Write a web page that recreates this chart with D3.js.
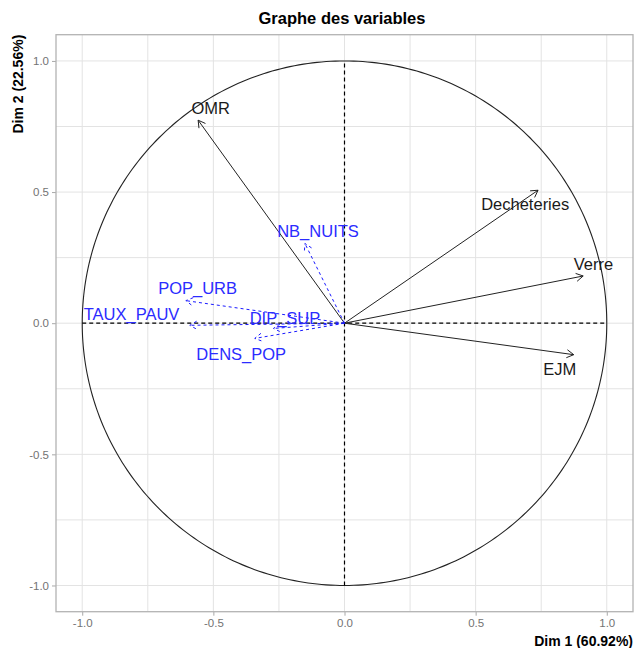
<!DOCTYPE html>
<html>
<head>
<meta charset="utf-8">
<script src="https://cdn.jsdelivr.net/npm/d3@7"></script>
<style>
  html, body { margin: 0; padding: 0; background: #fff; }
  svg { display: block; font-family: "Liberation Sans", Arial, sans-serif; }
</style>
</head>
<body>
<svg id="chart" width="636" height="648"></svg>
<script>
// ---- data ----
const variables = ["OMR", "Decheteries", "Verre", "EJM", "NB_NUITS", "POP_URB", "TAUX_PAUV", "DIP_SUP", "DENS_POP"];
const dim1 = [-0.558, 0.738, 0.910, 0.874, -0.151, -0.605, -0.590, -0.271, -0.342];
const dim2 = [0.774, 0.507, 0.180, -0.120, 0.304, 0.086, -0.008, -0.020, -0.058];
const supplementary = [false, false, false, false, true, true, true, true, true];
const labelDim1 = [-0.510, 0.689, 0.949, 0.821, -0.101, -0.560, -0.812, -0.227, -0.394];
const labelDim2 = [0.819, 0.455, 0.224, -0.176, 0.350, 0.132, 0.033, 0.019, -0.119];
const majorTicks = [-1.0, -0.5, 0.0, 0.5, 1.0];
const minorTicks = [-0.75, -0.25, 0.25, 0.75];
const titleText = "Graphe des variables";
const xTitle = "Dim 1 (60.92%)";
const yTitle = "Dim 2 (22.56%)";

// ---- layout ----
const svg = d3.select("#chart");
const panel = { left: 56, right: 633, top: 34.7, bottom: 611.7 };
const x = d3.scaleLinear().domain([-1.1, 1.1]).range([panel.left, panel.right]);
const y = d3.scaleLinear().domain([-1.1, 1.1]).range([panel.bottom, panel.top]);

// panel background
svg.append("rect")
  .attr("x", panel.left).attr("y", panel.top)
  .attr("width", panel.right - panel.left).attr("height", panel.bottom - panel.top)
  .attr("fill", "#ffffff");

// grid
const grid = svg.append("g");
const allTicks = majorTicks.concat(minorTicks);
grid.selectAll("line.vx").data(allTicks).join("line")
  .attr("x1", d => x(d)).attr("x2", d => x(d))
  .attr("y1", panel.top).attr("y2", panel.bottom)
  .attr("stroke", "#e3e3e3").attr("stroke-width", 1);
grid.selectAll("line.hy").data(allTicks).join("line")
  .attr("y1", d => y(d)).attr("y2", d => y(d))
  .attr("x1", panel.left).attr("x2", panel.right)
  .attr("stroke", "#e3e3e3").attr("stroke-width", 1);

// axes
const fmt = d => d.toFixed(1);
const xAxis = svg.append("g")
  .attr("transform", `translate(0,${panel.bottom})`)
  .call(d3.axisBottom(x).tickValues(majorTicks).tickFormat(fmt).tickSize(4).tickPadding(3));
const yAxis = svg.append("g")
  .attr("transform", `translate(${panel.left},0)`)
  .call(d3.axisLeft(y).tickValues(majorTicks).tickFormat(fmt).tickSize(4).tickPadding(3));
[xAxis, yAxis].forEach(a => {
  a.select(".domain").remove();
  a.selectAll(".tick line").attr("stroke", "#a8a8a8");
  a.selectAll(".tick text")
    .attr("fill", "#737373")
    .style("font-size", "11.5px")
    .style("font-family", "'Liberation Sans', Arial, sans-serif");
});

// panel border
svg.append("rect")
  .attr("x", panel.left).attr("y", panel.top)
  .attr("width", panel.right - panel.left).attr("height", panel.bottom - panel.top)
  .attr("fill", "none").attr("stroke", "#b3b3b3").attr("stroke-width", 1.3);

// unit circle
const circlePts = d3.range(0, 361, 1).map(a => [Math.cos(a * Math.PI / 180), Math.sin(a * Math.PI / 180)]);
svg.append("path")
  .attr("d", d3.line().x(d => x(d[0])).y(d => y(d[1]))(circlePts))
  .attr("fill", "none").attr("stroke", "#222").attr("stroke-width", 1.1);

// reference dashed lines
svg.append("line")
  .attr("x1", x(-1)).attr("x2", x(1)).attr("y1", y(0)).attr("y2", y(0))
  .attr("stroke", "#000").attr("stroke-width", 1.2).attr("stroke-dasharray", "4,3");
svg.append("line")
  .attr("x1", x(0)).attr("x2", x(0)).attr("y1", y(-1)).attr("y2", y(1))
  .attr("stroke", "#000").attr("stroke-width", 1.2).attr("stroke-dasharray", "4,3");

// arrows
const rows = variables.map((v, i) => ({
  name: v, d1: dim1[i], d2: dim2[i], sup: supplementary[i], l1: labelDim1[i], l2: labelDim2[i]
}));
const headLen = 8, headAng = Math.PI / 6;
const arrows = svg.append("g");
rows.forEach(r => {
  const x0 = x(0), y0 = y(0), x1 = x(r.d1), y1 = y(r.d2);
  const col = r.sup ? "#1a1aff" : "#222222";
  const g = arrows.append("g");
  g.append("line")
    .attr("x1", x0).attr("y1", y0).attr("x2", x1).attr("y2", y1)
    .attr("stroke", col).attr("stroke-width", 1)
    .attr("stroke-dasharray", r.sup ? "3,3" : null);
  const ang = Math.atan2(y1 - y0, x1 - x0);
  const pa = [x1 - headLen * Math.cos(ang - headAng), y1 - headLen * Math.sin(ang - headAng)];
  const pb = [x1 - headLen * Math.cos(ang + headAng), y1 - headLen * Math.sin(ang + headAng)];
  g.append("path")
    .attr("d", `M${pa[0]},${pa[1]}L${x1},${y1}L${pb[0]},${pb[1]}`)
    .attr("fill", "none").attr("stroke", col).attr("stroke-width", 1)
    .attr("stroke-dasharray", r.sup ? "3,3" : null);
});

// labels
svg.append("g").selectAll("text").data(rows).join("text")
  .attr("x", d => x(d.l1)).attr("y", d => y(d.l2))
  .attr("dy", "0.35em")
  .attr("text-anchor", "middle")
  .attr("fill", d => d.sup ? "#2b2bff" : "#1a1a1a")
  .style("font-size", "16.5px")
  .text(d => d.name);

// titles
svg.append("text")
  .attr("x", 342).attr("y", 24)
  .attr("text-anchor", "middle")
  .style("font-size", "16.5px").style("font-weight", "bold")
  .attr("fill", "#000")
  .text(titleText);
svg.append("text")
  .attr("x", panel.right).attr("y", 645.5)
  .attr("text-anchor", "end")
  .style("font-size", "14px").style("font-weight", "bold")
  .attr("fill", "#000")
  .text(xTitle);
svg.append("text")
  .attr("transform", `translate(23,${panel.top}) rotate(-90)`)
  .attr("text-anchor", "end")
  .style("font-size", "14px").style("font-weight", "bold")
  .attr("fill", "#000")
  .text(yTitle);
</script>
</body>
</html>
